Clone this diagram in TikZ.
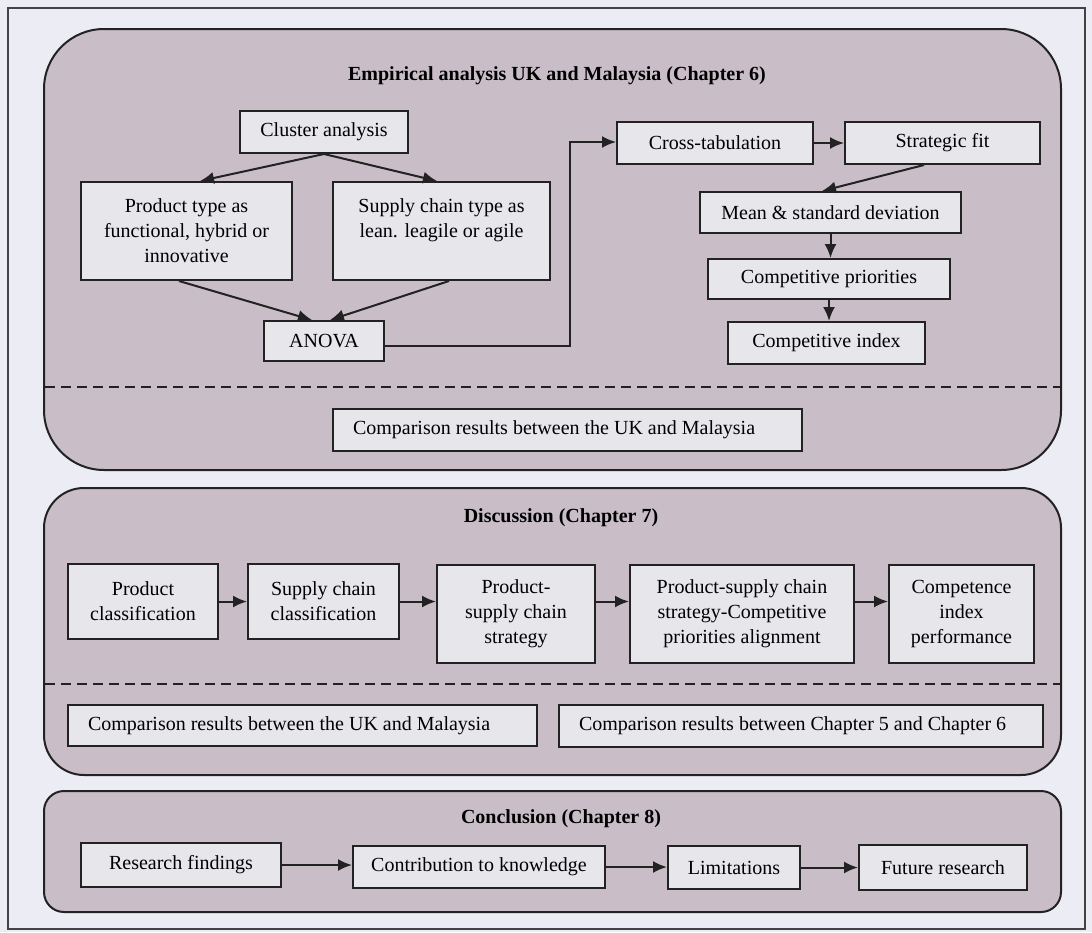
\documentclass[tikz,border=0pt]{standalone}
\usepackage{fontspec}
\setmainfont{Liberation Serif}
\usetikzlibrary{arrows.meta}
\definecolor{pagebg}{HTML}{ECEDF4}
\definecolor{panelfill}{HTML}{C9BEC8}
\definecolor{boxfill}{HTML}{E7E6EB}
\definecolor{ink}{HTML}{222222}
\begin{document}
\begin{tikzpicture}[x=1pt,y=-1pt,
  font=\fontsize{20}{25}\selectfont,
  panel/.style={draw=ink, line width=2pt, fill=panelfill},
  box/.style={draw=ink, line width=2pt, fill=boxfill, inner sep=0pt, align=center},
  sz/.style 2 args={minimum width=#1pt, minimum height=#2pt},
  wide/.style={draw=ink, line width=2pt, fill=boxfill, inner xsep=20pt,
               inner ysep=0pt, align=flush left, text width=#1pt},
  title/.style={font=\fontsize{20}{25}\selectfont\bfseries, anchor=base},
  link/.style={draw=ink, line width=2pt, -{Latex[length=14pt,width=12pt]}},
  divider/.style={draw=ink, line width=1.6pt, dash pattern=on 10pt off 6pt}]

% page and frame
\useasboundingbox (0,0) rectangle (1092,932);
\fill[pagebg] (0,0) rectangle (1092,932);
\draw[ink!85, line width=1.5pt] (8,8) rectangle (1085,929);

% ---------------- Chapter 6 ----------------
\draw[panel, rounded corners=60pt] (44,29) rectangle (1061,470);
\node[title] (t6) at (557,80) {Empirical analysis UK and Malaysia (Chapter 6)};

\node[box, sz={168}{42}] (cluster) at (324,132) {Cluster analysis};
\node[box, sz={211}{98}] (ptype) at (186.5,231)
  {Product type as\\functional, hybrid or\\innovative};
\node[box, sz={217}{98}] (stype) at (441.5,231)
  {Supply chain type as\\lean. leagile or agile\\\mbox{}};
\node[box, sz={120}{40}] (anova) at (324,341) {ANOVA};

\node[box, sz={196}{42}] (cross) at (715,143) {Cross-tabulation};
\node[box, sz={195}{42}] (fit) at (942.5,143) {Strategic fit};
\node[box, sz={261}{41}] (mean) at (830.5,212.5) {Mean \& standard deviation};
\node[box, sz={242}{40}] (cp) at (829,279) {Competitive priorities};
\node[box, sz={197}{42}] (ci) at (826.5,343) {Competitive index};

\coordinate (elbow) at (570,0);

\draw[link] (cluster.south) -- ([xshift=13.5pt]ptype.north);
\draw[link] (cluster.south) -- ([xshift=-4.5pt]stype.north);
\draw[link] ([xshift=-7.5pt]ptype.south) -- ([xshift=-12pt]anova.north);
\draw[link] ([xshift=7.5pt]stype.south) -- ([xshift=6pt]anova.north);
\draw[link] ([yshift=-5pt]anova.east) -- ([yshift=-5pt]anova.east -| elbow)
  |- ([yshift=1pt]cross.west);
\draw[link] (cross.east) -- (fit.west);
\draw[link] ([xshift=-18.5pt]fit.south) -- ([xshift=-8.5pt]mean.north);
\draw[link] (mean.south) -- (mean.south |- cp.north);
\draw[link] (cp.south) -- (cp.south |- ci.north);

\draw[divider] (45,387) -- (1060,387);
\node[wide=429, minimum height=42pt] (cmp1) at (567.5,430)
  {Comparison results between the UK and Malaysia};

% ---------------- Chapter 7 ----------------
\draw[panel, rounded corners=40pt] (44,488) rectangle (1061,775);
\node[title] (t7) at (561,522) {Discussion (Chapter 7)};

\node[box, sz={150}{75}] (pc) at (143,601.5) {Product\\classification};
\node[box, sz={151}{75}] (scc) at (323.5,601.5) {Supply chain\\classification};
\node[box, sz={158}{98}] (psc) at (516,614) {Product-\\supply chain\\strategy};
\node[box, sz={224}{98}] (align) at (742,614)
  {Product-supply chain\\strategy-Competitive\\priorities alignment};
\node[box, sz={145}{98}] (comp) at (961.5,614) {Competence\\index\\performance};

\draw[link] (pc.east) -- (scc.west);
\draw[link] (scc.east) -- (scc.east -| psc.west);
\draw[link] (psc.east |- scc.east) -- (align.west |- scc.east);
\draw[link] (align.east |- scc.east) -- (comp.west |- scc.east);

\draw[divider] (45,684) -- (1060,684);
\node[wide=429, minimum height=41pt] (cmp2) at (302.5,725.5)
  {Comparison results between the UK and Malaysia};
\node[wide=444, minimum height=42pt] (cmp3) at (801,726)
  {Comparison results between Chapter 5 and Chapter 6};

% ---------------- Chapter 8 ----------------
\draw[panel, rounded corners=20pt] (44,791) rectangle (1061,912);
\node[title] (t8) at (561,823) {Conclusion (Chapter 8)};

\node[box, sz={200}{44}] (rf) at (181,865) {Research findings};
\node[box, sz={252}{42}] (contrib) at (479,867) {Contribution to knowledge};
\node[box, sz={132}{43}] (lim) at (734,867.5) {Limitations};
\node[box, sz={168}{45}] (fut) at (943,867.5) {Future research};

\draw[link] (rf.east) -- (rf.east -| contrib.west);
\draw[link] (contrib.east) -- (contrib.east -| lim.west);
\draw[link] (lim.east) -- (lim.east -| fut.west);
\end{tikzpicture}
\end{document}
